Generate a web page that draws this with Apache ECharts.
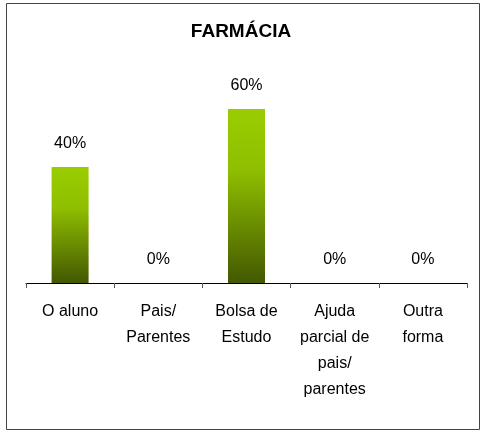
<!DOCTYPE html>
<html>
<head>
<meta charset="utf-8">
<script src="https://cdn.jsdelivr.net/npm/echarts@6/dist/echarts.min.js"></script>
<style>
    html, body { margin: 0; padding: 0; background: #fff; }
    #chart { width: 482px; height: 431px; }
</style>
</head>
<body>
<div id="chart"></div>
<script>
// dados do gráfico
const categorias = ['O aluno', 'Pais/\nParentes', 'Bolsa de\nEstudo', 'Ajuda\nparcial de\npais/\nparentes', 'Outra\nforma'];
const valores = [40, 0, 60, 0, 0];

function initFarmaciaChart() {
    let chart = echarts.init(document.getElementById('chart'));

    let option = {
        backgroundColor: '#fff',
        animation: false,
        title: {
            text: 'FARMÁCIA',
            left: 'center',
            top: 17,
            textStyle: {
                fontFamily: 'Liberation Sans',
                fontSize: 19,
                fontWeight: 'bold',
                color: '#000'
            }
        },
        graphic: [
            {
                type: 'rect',
                shape: { x: 6.5, y: 3.5, width: 473, height: 426 },
                style: { fill: 'none', stroke: '#444', lineWidth: 1 },
                silent: true
            }
        ],
        grid: {
            left: 26,
            right: 15,
            top: 80,
            bottom: 148
        },
        xAxis: {
            type: 'category',
            data: categorias,
            boundaryGap: true,
            axisLine: { lineStyle: { color: '#000', width: 1 } },
            axisTick: { show: true, length: 5, lineStyle: { color: '#555' } },
            axisLabel: {
                interval: 0,
                margin: 16,
                fontFamily: 'Liberation Sans',
                fontSize: 16,
                lineHeight: 26,
                color: '#000'
            }
        },
        yAxis: {
            type: 'value',
            min: 0,
            max: 70,
            show: false,
            splitLine: { show: false }
        },
        series: [
            {
                type: 'bar',
                data: valores,
                barWidth: 37,
                itemStyle: {
                    color: new echarts.graphic.LinearGradient(0, 0, 0, 1, [
                        { offset: 0, color: '#9acd00' },
                        { offset: 0.35, color: '#8fbf00' },
                        { offset: 1, color: '#435800' }
                    ])
                },
                label: {
                    show: true,
                    position: 'top',
                    distance: 15,
                    formatter: '{c}%',
                    fontFamily: 'Liberation Sans',
                    fontSize: 16,
                    color: '#000'
                }
            }
        ]
    };

    chart.setOption(option);
}

initFarmaciaChart();
</script>
</body>
</html>
